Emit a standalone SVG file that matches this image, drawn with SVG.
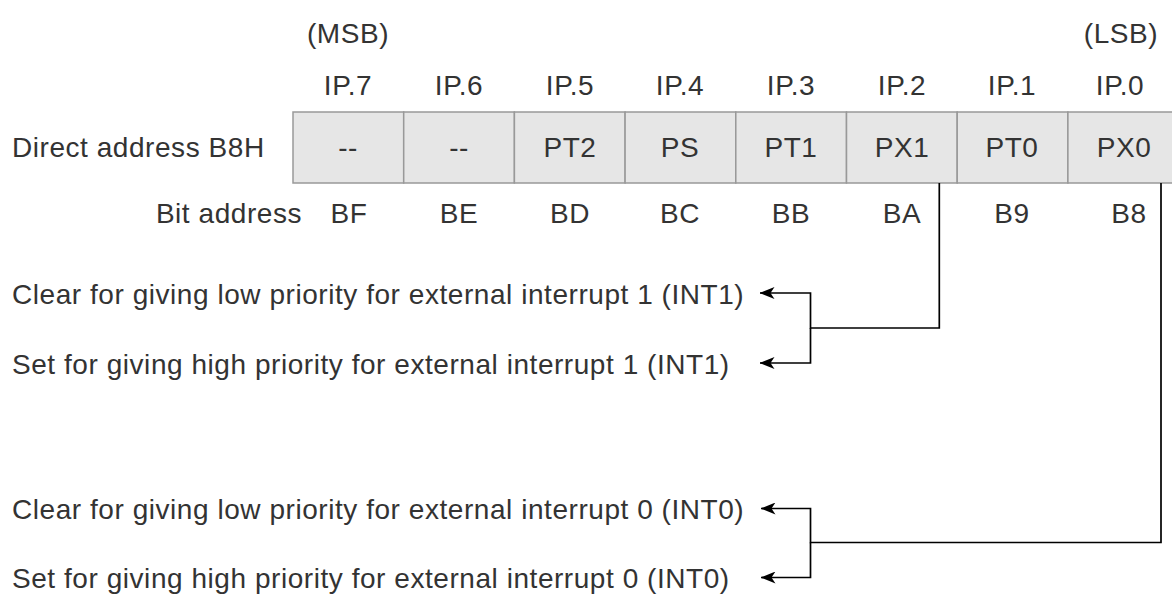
<svg xmlns="http://www.w3.org/2000/svg" width="1172" height="596" viewBox="0 0 1172 596">
<defs>
<style>
text{font-family:"Liberation Sans",Arial,Helvetica,sans-serif;font-size:28px;letter-spacing:0.55px;fill:#333}
.c{text-anchor:middle}
.e{text-anchor:end}
.cell{fill:#e6e6e6;stroke:#999;stroke-width:1.5}
.wire{fill:none;stroke:#000;stroke-width:1.7}
</style>
<marker id="arr" viewBox="0 0 15 12" refX="14.5" refY="6" markerWidth="15" markerHeight="12" markerUnits="userSpaceOnUse" orient="auto">
<path d="M0,0 L15,6 L0,12 L4,6 Z" fill="#000"/>
</marker>
</defs>
<rect width="1172" height="596" fill="#fff"/>
<g id="labels">
<text class="c" x="348" y="43">(MSB)</text>
<text class="c" x="1121" y="43">(LSB)</text>
<text x="12" y="157">Direct address B8H</text>
<text class="e" x="302" y="223">Bit address</text>
</g>
<g id="bitnames">
<text class="c" x="348" y="95">IP.7</text>
<text class="c" x="459" y="95">IP.6</text>
<text class="c" x="570" y="95">IP.5</text>
<text class="c" x="680" y="95">IP.4</text>
<text class="c" x="791" y="95">IP.3</text>
<text class="c" x="902" y="95">IP.2</text>
<text class="c" x="1012" y="95">IP.1</text>
<text class="c" x="1120" y="95">IP.0</text>
</g>
<g id="register">
<g id="bit7"><rect class="cell" x="293" y="112" width="110.7" height="71"/><text class="c" x="348" y="157">--</text></g>
<g id="bit6"><rect class="cell" x="403.7" y="112" width="110.7" height="71"/><text class="c" x="459" y="157">--</text></g>
<g id="bit5"><rect class="cell" x="514.4" y="112" width="110.7" height="71"/><text class="c" x="570" y="157">PT2</text></g>
<g id="bit4"><rect class="cell" x="625.1" y="112" width="110.7" height="71"/><text class="c" x="680" y="157">PS</text></g>
<g id="bit3"><rect class="cell" x="735.8" y="112" width="110.7" height="71"/><text class="c" x="791" y="157">PT1</text></g>
<g id="bit2"><rect class="cell" x="846.5" y="112" width="110.7" height="71"/><text class="c" x="902" y="157">PX1</text></g>
<g id="bit1"><rect class="cell" x="957.2" y="112" width="110.7" height="71"/><text class="c" x="1012" y="157">PT0</text></g>
<g id="bit0"><rect class="cell" x="1067.9" y="112" width="110.7" height="71"/><text class="c" x="1124" y="157">PX0</text></g>
</g>
<g id="bitaddr">
<text class="c" x="349" y="223">BF</text>
<text class="c" x="459" y="223">BE</text>
<text class="c" x="570" y="223">BD</text>
<text class="c" x="680" y="223">BC</text>
<text class="c" x="791" y="223">BB</text>
<text class="c" x="902" y="223">BA</text>
<text class="c" x="1012" y="223">B9</text>
<text class="c" x="1129" y="223">B8</text>
</g>
<g id="descriptions">
<text x="12" y="304">Clear for giving low priority for external interrupt 1 (INT1)</text>
<text x="12" y="374">Set for giving high priority for external interrupt 1 (INT1)</text>
<text x="12" y="519">Clear for giving low priority for external interrupt 0 (INT0)</text>
<text x="12" y="588">Set for giving high priority for external interrupt 0 (INT0)</text>
</g>
<g id="connectors">
<path class="wire" d="M939.3,183 V328 H810.5 V293 H760" marker-end="url(#arr)"/>
<path class="wire" d="M810.5,328 V363 H760" marker-end="url(#arr)"/>
<path class="wire" d="M1161,183 V542.5 H810.5 V508.5 H761" marker-end="url(#arr)"/>
<path class="wire" d="M810.5,542.5 V577.5 H761" marker-end="url(#arr)"/>
</g>
</svg>
